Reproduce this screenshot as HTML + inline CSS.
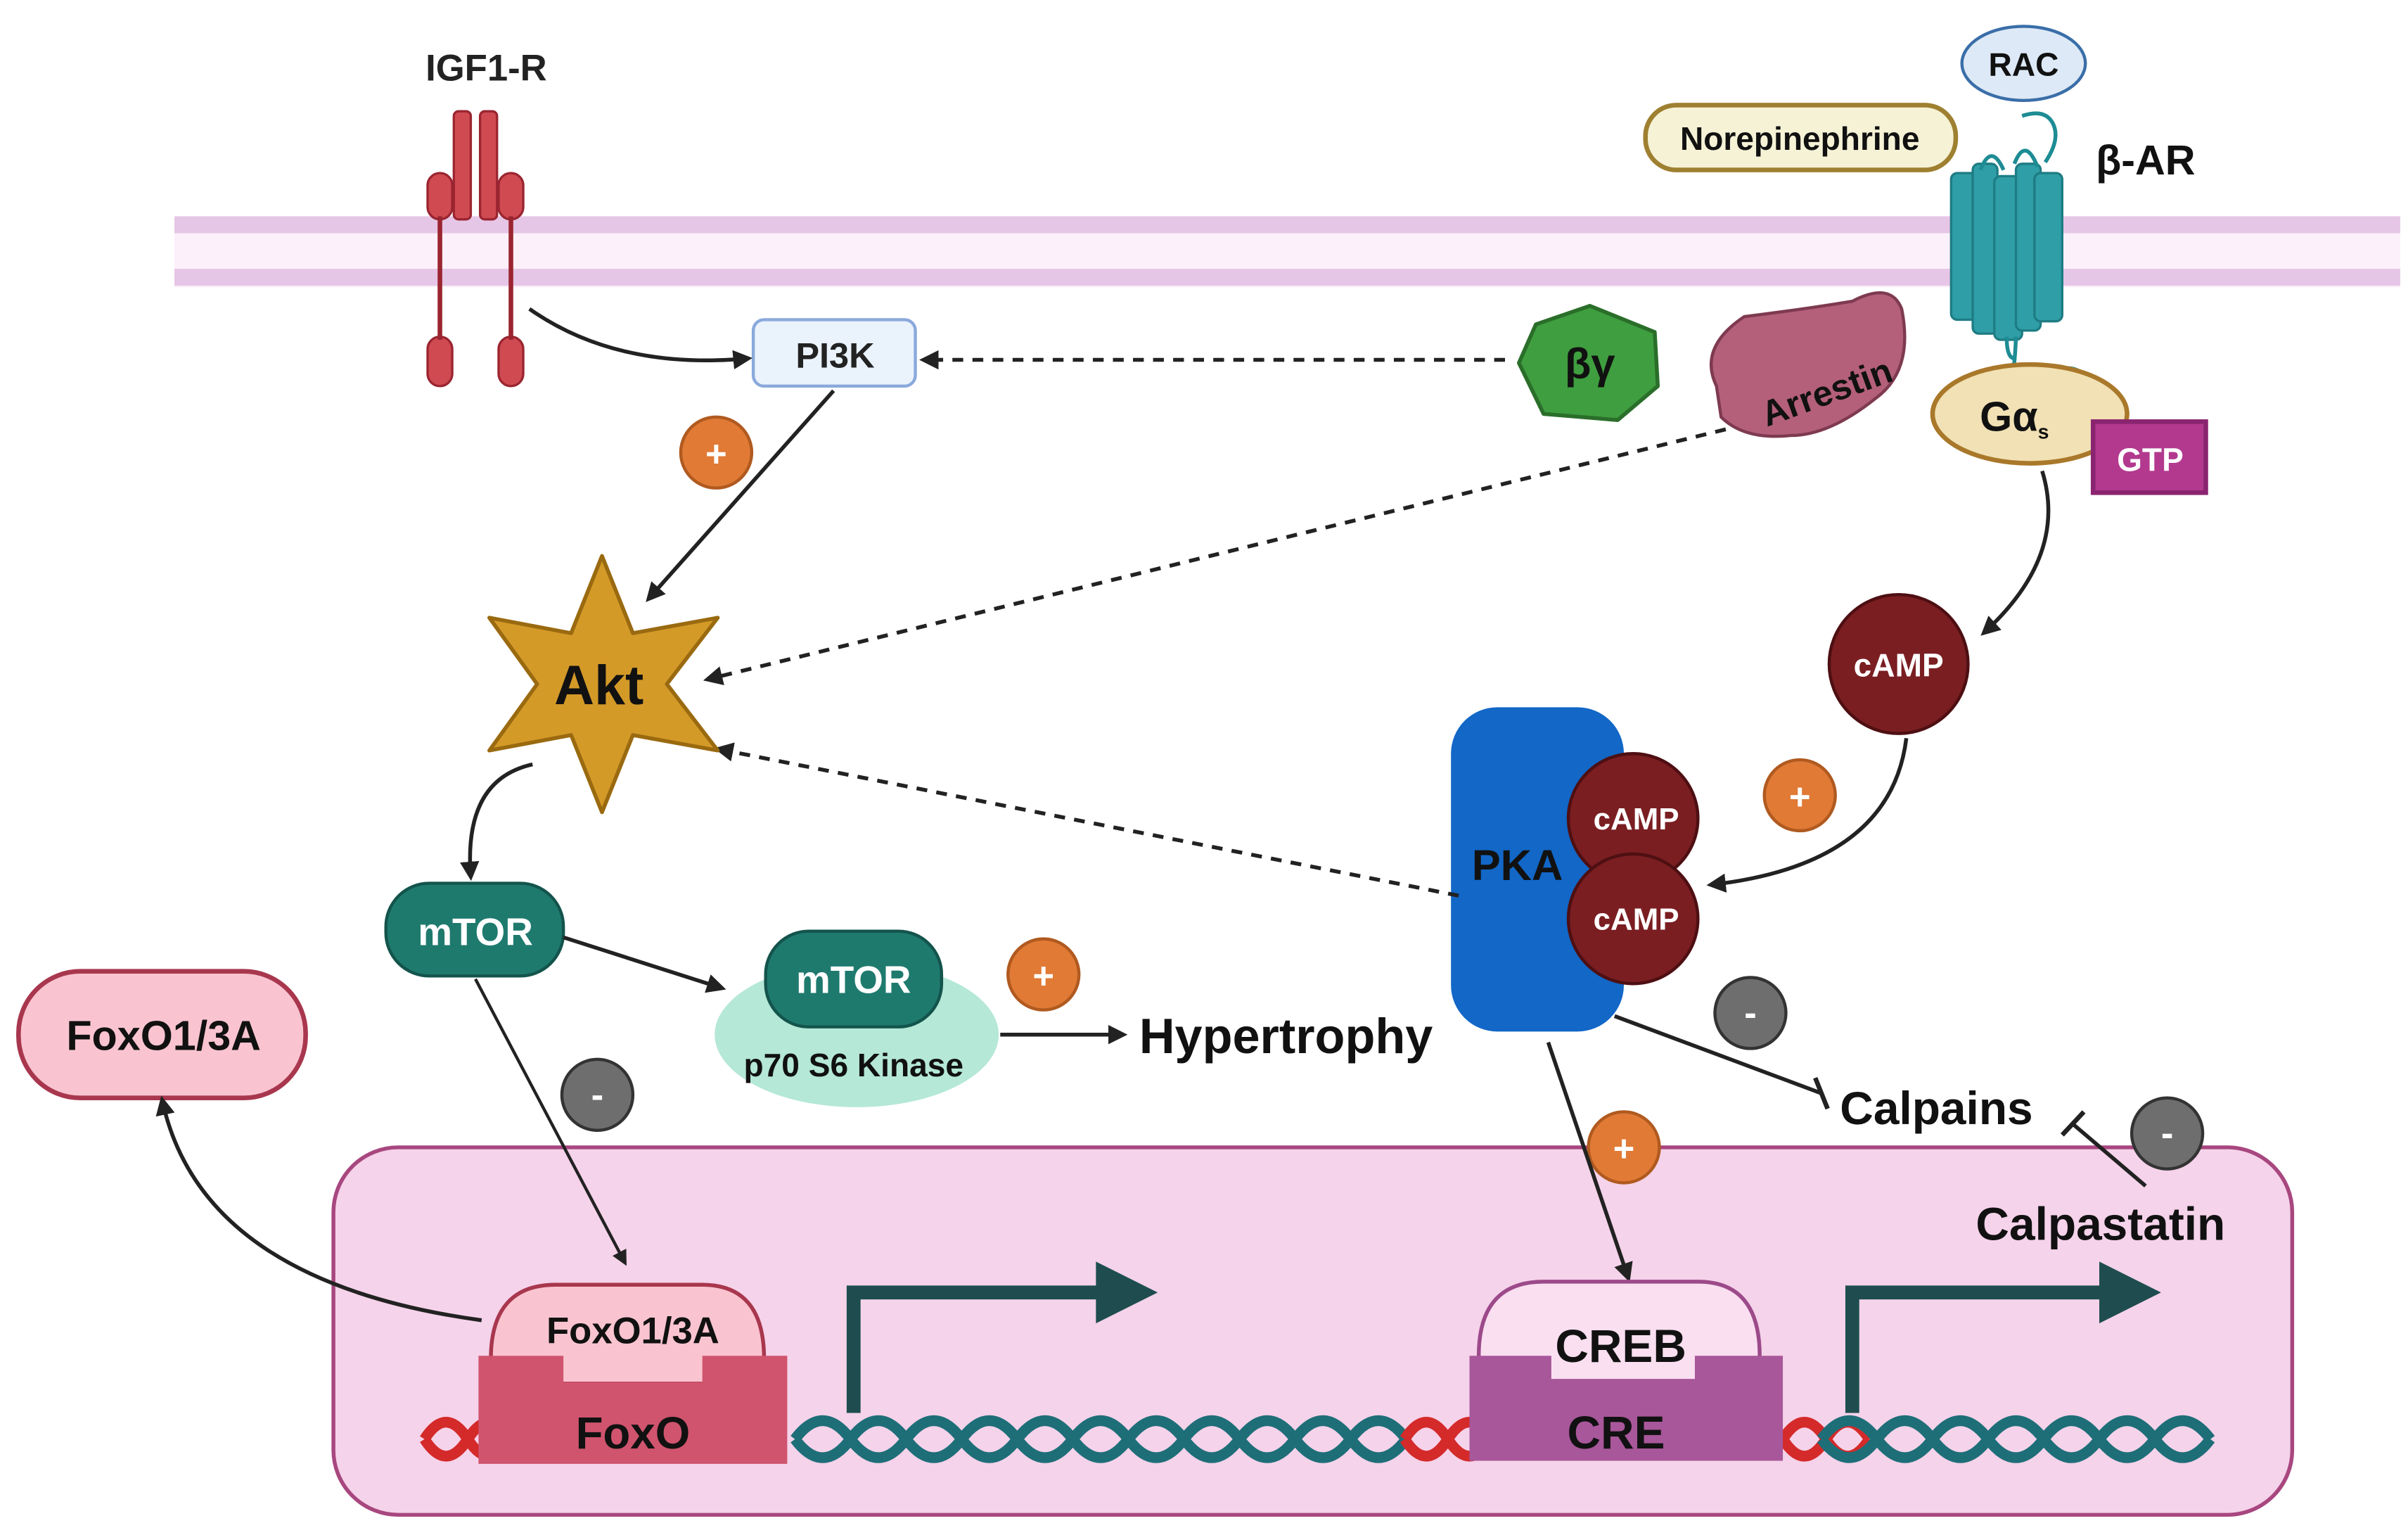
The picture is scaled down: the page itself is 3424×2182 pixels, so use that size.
<!DOCTYPE html>
<html><head><meta charset="utf-8"><style>
html,body{margin:0;padding:0;background:#fff;width:3424px;height:2182px;overflow:hidden}
svg{display:block}
text{font-family:"Liberation Sans",sans-serif;font-weight:bold}
</style></head><body>
<svg width="3424" height="2182" viewBox="0 0 1560 994" xmlns="http://www.w3.org/2000/svg">
<defs>
<marker id="ah" viewBox="0 0 10 10" refX="8" refY="5" markerWidth="5" markerHeight="5" orient="auto"><path d="M0,0 L10,5 L0,10 z" fill="#222"/></marker>
</defs>
<rect x="113" y="140" width="1442" height="46" fill="#fcf0fa"/>
<rect x="113" y="140" width="1442" height="11" fill="#e6c6e6"/>
<rect x="113" y="174" width="1442" height="11" fill="#e6c6e6"/>
<rect x="216" y="743" width="1269" height="238" rx="42" fill="#f5d3ea" stroke="#a8477f" stroke-width="2.5"/>
<text x="315" y="52" font-size="24" text-anchor="middle" fill="#222">IGF1-R</text>
<g fill="#d04a52" stroke="#9a2530" stroke-width="1.5">
<rect x="294" y="72" width="11" height="70" rx="3"/><rect x="311" y="72" width="11" height="70" rx="3"/>
<rect x="277" y="112" width="16" height="30" rx="8"/><rect x="323" y="112" width="16" height="30" rx="8"/>
<rect x="277" y="218" width="16" height="32" rx="8"/><rect x="323" y="218" width="16" height="32" rx="8"/>
</g>
<line x1="285" y1="140" x2="285" y2="220" stroke="#9a2530" stroke-width="3"/>
<line x1="331" y1="140" x2="331" y2="220" stroke="#9a2530" stroke-width="3"/>
<rect x="488" y="207" width="105" height="43" rx="7" fill="#eaf2fc" stroke="#8aa9dc" stroke-width="2"/>
<text x="541" y="238" font-size="23" text-anchor="middle" fill="#222">PI3K</text>
<path d="M343,200 Q400,240 485,232" fill="none" stroke="#222" stroke-width="2.5" marker-end="url(#ah)"/>
<line x1="975" y1="233" x2="598" y2="233" stroke="#222" stroke-width="2.5" stroke-dasharray="7,6" marker-end="url(#ah)"/>
<path d="M1030,198 L1072,215 L1074,250 L1048,272 L1000,268 L984,235 L995,210 Z" fill="#3f9e3f" stroke="#2a6e2a" stroke-width="2.5" stroke-linejoin="round"/>
<text x="1030" y="245" font-size="28" text-anchor="middle" fill="#111">βγ</text>
<path d="M1112,250 Q1100,225 1130,205 Q1170,200 1200,195 Q1225,182 1232,200 Q1240,240 1215,258 Q1185,282 1160,282 Q1130,285 1115,270 Z" fill="#b4607a" stroke="#7e3a50" stroke-width="2"/>
<text x="1182" y="262" font-size="23" fill="#111" text-anchor="middle" transform="rotate(-20 1182 250)">Arrestin</text>
<ellipse cx="1311" cy="41" rx="40" ry="24" fill="#dde9f6" stroke="#3a6ea8" stroke-width="2"/>
<text x="1311" y="49" font-size="21" text-anchor="middle" fill="#111">RAC</text>
<rect x="1066" y="68" width="201" height="42" rx="20" fill="#f6f2d6" stroke="#9e8030" stroke-width="3"/>
<text x="1166" y="97" font-size="21" text-anchor="middle" fill="#111">Norepinephrine</text>
<text x="1390" y="113" font-size="27" text-anchor="middle" fill="#111">β-AR</text>
<g fill="#2f9ea6" stroke="#1e7c84" stroke-width="1.5">
<rect x="1264" y="112" width="18" height="95" rx="4"/><rect x="1278" y="106" width="16" height="110" rx="4"/>
<rect x="1292" y="114" width="18" height="106" rx="4"/><rect x="1306" y="106" width="16" height="108" rx="4"/>
<rect x="1318" y="112" width="18" height="96" rx="4"/>
</g>
<path d="M1283,110 Q1290,92 1298,110 M1305,106 Q1312,88 1320,108 M1325,105 Q1335,90 1330,80 Q1325,70 1310,75 M1300,218 Q1300,232 1305,232 M1306,218 Q1305,248 1300,250 M1330,240 Q1345,235 1352,245" fill="none" stroke="#1e8c94" stroke-width="2.5"/>
<ellipse cx="1315" cy="268" rx="63" ry="32" fill="#f1e1b4" stroke="#a9782a" stroke-width="3"/>
<text x="1305" y="279" font-size="27" text-anchor="middle" fill="#111">Gα<tspan font-size="13" dy="5">s</tspan></text>
<rect x="1356" y="273" width="73" height="46" fill="#b2398e" stroke="#8a2470" stroke-width="3"/>
<text x="1393" y="305" font-size="21" text-anchor="middle" fill="#fff">GTP</text>
<path d="M1323,305 Q1340,360 1285,410" fill="none" stroke="#222" stroke-width="2.5" marker-end="url(#ah)"/>
<circle cx="1230" cy="430" r="45" fill="#7a1e22" stroke="#4e0f12" stroke-width="2"/>
<text x="1230" y="438" font-size="21" text-anchor="middle" fill="#fff">cAMP</text>
<path d="M1235,478 Q1225,560 1108,573" fill="none" stroke="#222" stroke-width="2.5" marker-end="url(#ah)"/>
<rect x="940" y="458" width="112" height="210" rx="30" fill="#1267c7"/>
<text x="983" y="570" font-size="28" text-anchor="middle" fill="#111">PKA</text>
<circle cx="1058" cy="530" r="42" fill="#7a1e22" stroke="#4e0f12" stroke-width="2"/>
<text x="1060" y="537" font-size="20" text-anchor="middle" fill="#fff">cAMP</text>
<circle cx="1058" cy="595" r="42" fill="#7a1e22" stroke="#4e0f12" stroke-width="2"/>
<text x="1060" y="602" font-size="20" text-anchor="middle" fill="#fff">cAMP</text>
<line x1="1118" y1="278" x2="458" y2="440" stroke="#222" stroke-width="2.5" stroke-dasharray="7,6" marker-end="url(#ah)"/>
<line x1="945" y1="580" x2="465" y2="485" stroke="#222" stroke-width="2.5" stroke-dasharray="7,6" marker-end="url(#ah)"/>
<path d="M390,360 L410,410 L465,400 L432,443 L465,486 L410,476 L390,526 L370,476 L317,486 L348,443 L317,400 L370,410 Z" fill="#d49a28" stroke="#9a6a10" stroke-width="2.5" stroke-linejoin="round"/>
<text x="388" y="456" font-size="36" text-anchor="middle" fill="#111">Akt</text>
<line x1="540" y1="253" x2="420" y2="388" stroke="#222" stroke-width="2.5" marker-end="url(#ah)"/>
<path d="M345,495 Q300,505 305,568" fill="none" stroke="#222" stroke-width="2.5" marker-end="url(#ah)"/>
<rect x="250" y="572" width="115" height="60" rx="28" fill="#1f7a6e" stroke="#13544c" stroke-width="2"/>
<text x="308" y="612" font-size="25" text-anchor="middle" fill="#fff">mTOR</text>
<line x1="365" y1="607" x2="468" y2="640" stroke="#222" stroke-width="2.5" marker-end="url(#ah)"/>
<ellipse cx="555" cy="670" rx="92" ry="47" fill="#b5e8d6"/>
<rect x="496" y="603" width="114" height="62" rx="28" fill="#1f7a6e" stroke="#13544c" stroke-width="2"/>
<text x="553" y="643" font-size="25" text-anchor="middle" fill="#fff">mTOR</text>
<text x="553" y="697" font-size="21" text-anchor="middle" fill="#111">p70 S6 Kinase</text>
<line x1="648" y1="670" x2="728" y2="670" stroke="#222" stroke-width="2.5" marker-end="url(#ah)"/>
<text x="738" y="682" font-size="32" fill="#111">Hypertrophy</text>
<line x1="308" y1="634" x2="405" y2="818" stroke="#222" stroke-width="2" marker-end="url(#ah)"/>
<rect x="12" y="629" width="186" height="82" rx="40" fill="#f9c4d0" stroke="#a8374e" stroke-width="3"/>
<text x="106" y="680" font-size="27" text-anchor="middle" fill="#111">FoxO1/3A</text>
<path d="M312,855 Q130,830 105,712" fill="none" stroke="#222" stroke-width="2.5" marker-end="url(#ah)"/>
<g font-size="24" text-anchor="middle">
<circle cx="464" cy="293" r="23" fill="#e07a35" stroke="#b05a20" stroke-width="2"/><text x="464" y="302" fill="#fff">+</text>
<circle cx="1166" cy="515" r="23" fill="#e07a35" stroke="#b05a20" stroke-width="2"/><text x="1166" y="524" fill="#fff">+</text>
<circle cx="676" cy="631" r="23" fill="#e07a35" stroke="#b05a20" stroke-width="2"/><text x="676" y="640" fill="#fff">+</text>
<circle cx="1052" cy="743" r="23" fill="#e07a35" stroke="#b05a20" stroke-width="2"/><text x="1052" y="752" fill="#fff">+</text>
<circle cx="387" cy="709" r="23" fill="#6e6e6e" stroke="#333" stroke-width="2"/><text x="387" y="717" fill="#fff">-</text>
<circle cx="1134" cy="656" r="23" fill="#6e6e6e" stroke="#333" stroke-width="2"/><text x="1134" y="664" fill="#fff">-</text>
<circle cx="1404" cy="734" r="23" fill="#6e6e6e" stroke="#333" stroke-width="2"/><text x="1404" y="742" fill="#fff">-</text>
</g>
<line x1="1046" y1="658" x2="1180" y2="708" stroke="#222" stroke-width="2.5"/>
<line x1="1176" y1="698" x2="1184" y2="718" stroke="#222" stroke-width="3"/>
<text x="1192" y="728" font-size="30" fill="#111">Calpains</text>
<line x1="1390" y1="768" x2="1343" y2="728" stroke="#222" stroke-width="2.5"/>
<line x1="1336" y1="735" x2="1350" y2="720" stroke="#222" stroke-width="3"/>
<text x="1280" y="803" font-size="30" fill="#111">Calpastatin</text>
<line x1="1003" y1="675" x2="1055" y2="828" stroke="#222" stroke-width="2.5" marker-end="url(#ah)"/>
<g fill="none" stroke-width="7">
<path d="M275,932 q14,-22 28,0 t28,0 t28,0 t28,0 t28,0 t28,0 t28,0 t28,0" stroke="#d42a2a"/>
<path d="M275,932 q14,22 28,0 t28,0 t28,0 t28,0 t28,0 t28,0 t28,0 t28,0" stroke="#d42a2a"/>
<path d="M515,932 q18,-24 36,0 t36,0 t36,0 t36,0 t36,0 t36,0 t36,0 t36,0 t36,0 t36,0 t36,0" stroke="#1e6e78"/>
<path d="M515,932 q18,24 36,0 t36,0 t36,0 t36,0 t36,0 t36,0 t36,0 t36,0 t36,0 t36,0 t36,0" stroke="#1e6e78"/>
<path d="M910,932 q14,-22 28,0 t28,0" stroke="#d42a2a"/>
<path d="M910,932 q14,22 28,0 t28,0" stroke="#d42a2a"/>
<path d="M1155,932 q14,-22 28,0 t28,0" stroke="#d42a2a"/>
<path d="M1155,932 q14,22 28,0 t28,0" stroke="#d42a2a"/>
<path d="M1180,932 q18,-24 36,0 t36,0 t36,0 t36,0 t36,0 t36,0 t36,0" stroke="#1e6e78"/>
<path d="M1180,932 q18,24 36,0 t36,0 t36,0 t36,0 t36,0 t36,0 t36,0" stroke="#1e6e78"/>
</g>
<path d="M553,915 V837 H715" fill="none" stroke="#1f4d4f" stroke-width="9"/>
<path d="M710,817 L750,837 L710,857 Z" fill="#1f4d4f"/>
<path d="M1200,915 V837 H1365" fill="none" stroke="#1f4d4f" stroke-width="9"/>
<path d="M1360,817 L1400,837 L1360,857 Z" fill="#1f4d4f"/>
<path d="M318,896 V880 Q318,832 360,832 H455 Q495,832 495,880 V896 Z" fill="#f9c4d0" stroke="#a8374e" stroke-width="2.5"/>
<text x="410" y="870" font-size="24" text-anchor="middle" fill="#111">FoxO1/3A</text>
<path d="M310,878 H365 V895 H455 V878 H510 V948 H310 Z" fill="#d0546e"/>
<text x="410" y="938" font-size="29" text-anchor="middle" fill="#111">FoxO</text>
<path d="M958,895 V878 Q958,830 1000,830 H1100 Q1140,830 1140,878 V895 Z" fill="#f9dff0" stroke="#9c4a8a" stroke-width="2.5"/>
<text x="1050" y="882" font-size="30" text-anchor="middle" fill="#111">CREB</text>
<path d="M952,878 H1005 V893 H1098 V878 H1155 V946 H952 Z" fill="#a8579a"/>
<text x="1047" y="938" font-size="30" text-anchor="middle" fill="#111">CRE</text>
</svg>
</body></html>
